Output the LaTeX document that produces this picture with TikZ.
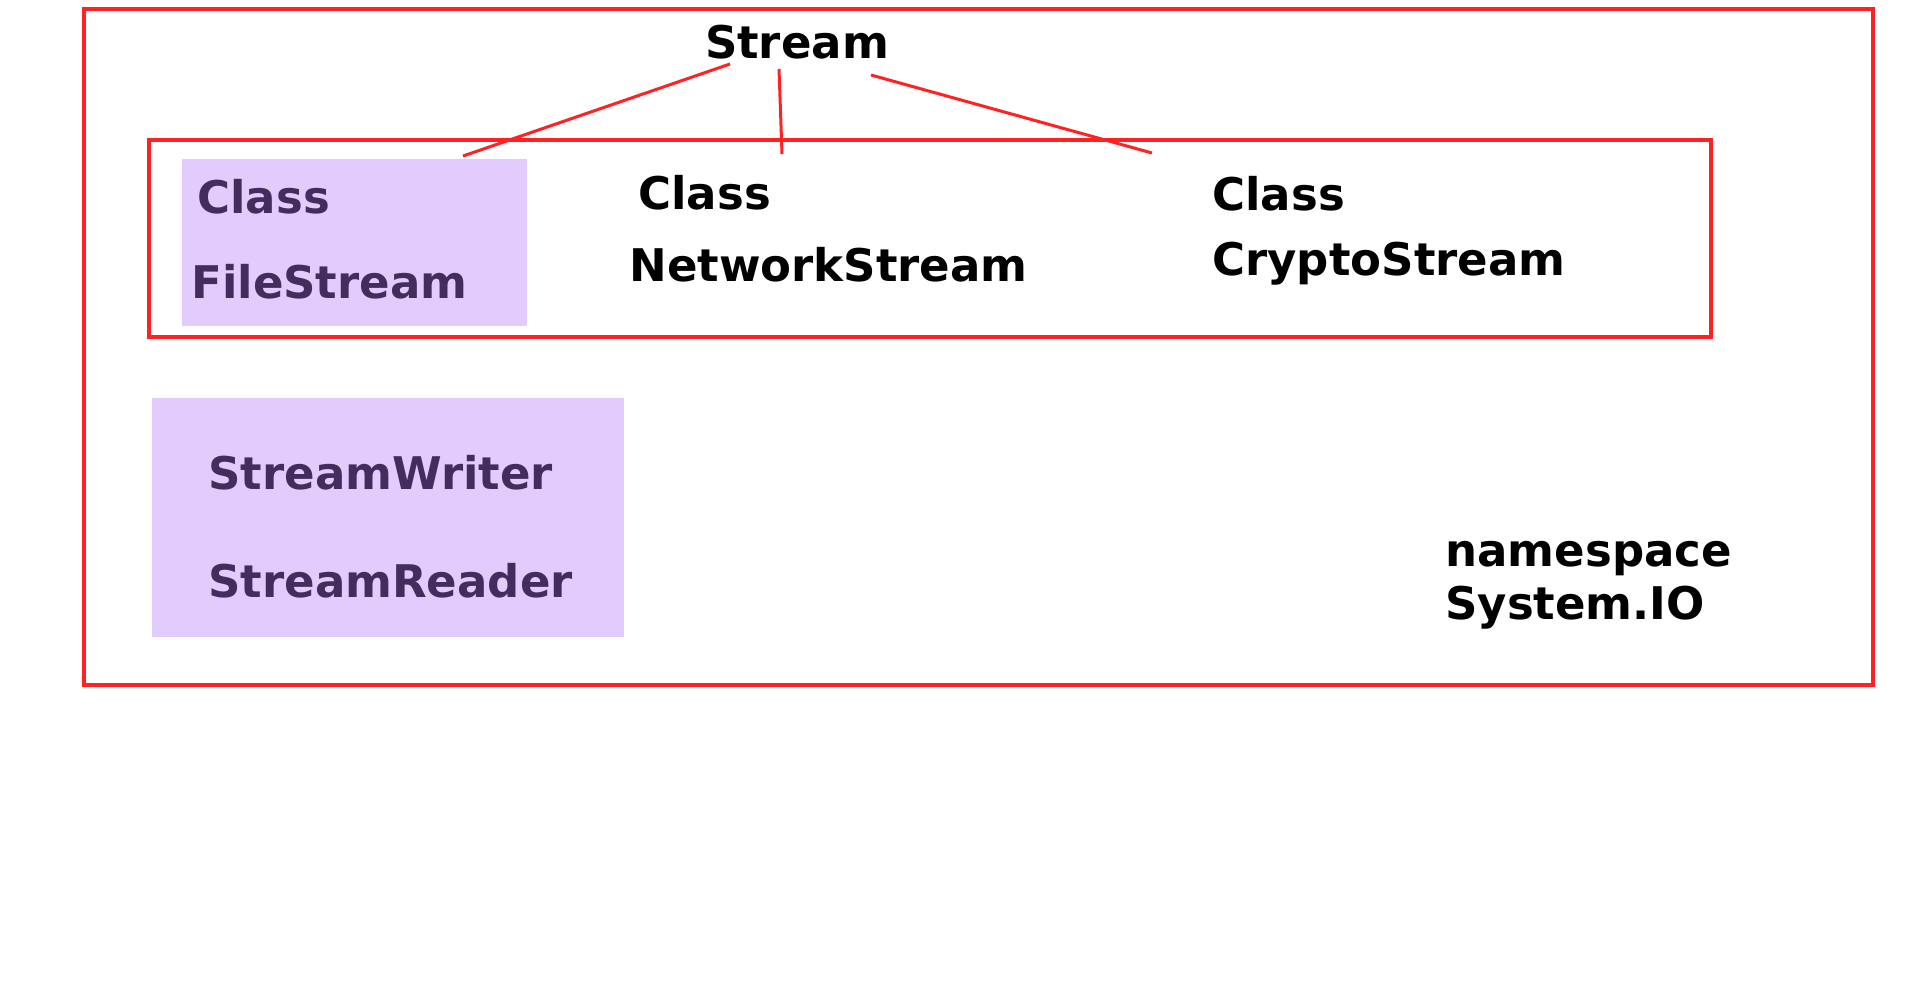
\documentclass[tikz,border=0pt]{standalone}
\usepackage{fontspec}
\setmainfont{DejaVu Sans}
\definecolor{redline}{HTML}{FF2222}
\definecolor{lilac}{HTML}{E2CCFE}
\definecolor{plum}{HTML}{432D5E}
\tikzset{
  frame/.style={draw=redline, line width=1.6pt},
  link/.style={draw=redline, line width=1.5pt},
  lilacbox/.style={fill=lilac},
  label/.style={anchor=base west, inner sep=0pt, font=\fontsize{22.5}{27}\selectfont\bfseries},
  inbox/.style={label, text=plum}
}
\begin{document}
\begin{tikzpicture}[x=0.5pt, y=-0.5pt]
        \useasboundingbox (0,0) rectangle (1920,991);
        % frames and filled boxes
        \draw[frame] (84,9) rectangle (1873,685);
        \draw[frame] (149,140) rectangle (1711,337);
        \fill[lilacbox] (182,159) rectangle (527,326);
        \fill[lilacbox] (152,398) rectangle (624,637);
        % texts
        \node[label, anchor=base] (stream) at (797,58) {Stream};
        \node[inbox] (fsclass) at (197,213) {Class};
        \node[inbox] (filestream) at (191,298) {FileStream};
        \node[label] (nsclass) at (638,209) {Class};
        \node[label] (networkstream) at (629,281) {NetworkStream};
        \node[label] (csclass) at (1212,210) {Class};
        \node[label] (cryptostream) at (1212,275) {CryptoStream};
        \node[inbox] (writer) at (208,489) {StreamWriter};
        \node[inbox] (reader) at (208,597) {StreamReader};
        \node[label] (ns) at (1445,566) {namespace};
        \node[label] (sysio) at (1445,619) {System.IO};
        % connectors
        \coordinate (s1) at (730,64);
        \coordinate (s2) at (779,69);
        \coordinate (s3) at (871,75);
        \coordinate (c1) at (463,156);
        \coordinate (c2) at (782,154);
        \coordinate (c3) at (1152,153);
        \draw[link] (s1) -- (c1);
        \draw[link] (s2) -- (c2);
        \draw[link] (s3) -- (c3);
\end{tikzpicture}
\end{document}
